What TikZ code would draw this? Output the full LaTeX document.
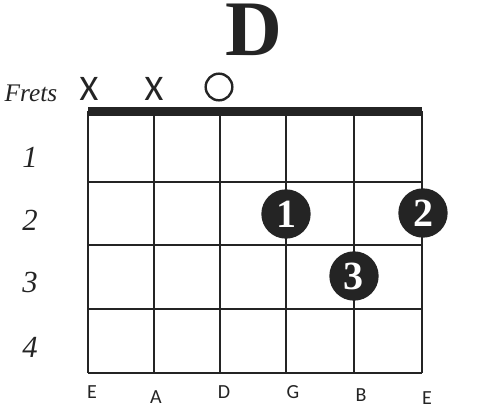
\documentclass[tikz,border=0pt]{standalone}
\usepackage{fontspec}
\setmainfont{Liberation Serif}
\newfontfamily\chordsans{Carlito}
\usetikzlibrary{positioning}

\definecolor{ink}{HTML}{242424}

\begin{document}
\begin{tikzpicture}[
  x=0.75pt, y=-0.75pt,
  every node/.style={text=ink, inner sep=0pt},
  fretline/.style={line width=1.5pt, draw=ink},
  finger/.style={
    circle, fill=ink, minimum size=37pt, text=white,
    font=\fontsize{30}{30}\selectfont\bfseries
  },
  fretnum/.style={font=\fontsize{23}{23}\selectfont\itshape},
  mute/.style={font=\fontsize{27}{27}\selectfont\chordsans},
  strname/.style={font=\fontsize{15}{15}\selectfont\chordsans}
]
\useasboundingbox (0,0) rectangle (494,413);

%--- Title and header ---
\node[anchor=base, text height=39pt, text depth=0pt] (title) at (254, 56)
  {\fontsize{59}{59}\selectfont\bfseries D};
\node (fretlbl) at (31, 93) {\fontsize{19}{19}\selectfont\itshape Frets};
\node[mute] (mute1) at (89, 89)  {X};
\node[mute] (mute2) at (154, 89) {X};
\node[circle, draw=ink, line width=1.8pt, minimum size=20pt] (open) at (219, 87) {};

%--- Grid corners ---
\coordinate (nutL) at (88, 111.5);
\coordinate (nutR) at (422, 111.5);
\coordinate (botL) at (88, 373);

%--- Nut and frets ---
\draw[ink, line width=7pt] (nutL) -- (nutR);
\draw[fretline] (88, 182) -- (422, 182);
\draw[fretline] (88, 245) -- (422, 245);
\draw[fretline] (88, 309) -- (422, 309);
\draw[fretline] (botL) -- (422, 373);

%--- Strings ---
\draw[fretline] (nutL) -- (botL);
\draw[fretline] (154, 111.5) -- (154, 373);
\draw[fretline] (220, 111.5) -- (220, 373);
\draw[fretline] (286, 111.5) -- (286, 373);
\draw[fretline] (354, 111.5) -- (354, 373);
\draw[fretline] (nutR) -- (422, 373);

%--- Fret numbers ---
\node[fretnum] (fret1) at (30, 157) {1};
\node[fretnum] (fret2) at (30, 220) {2};
\node[fretnum] (fret3) at (30, 283) {3};
\node[fretnum] (fret4) at (30, 347) {4};

%--- Fingers ---
\node[finger] (dot1) at (286, 214) {1};
\node[finger] (dot2) at (423, 213) {2};
\node[finger] (dot3) at (354, 276) {3};

%--- String names ---
\node[strname] (strEl) at (92, 392)  {E};
\node[strname] (strA)  at (156, 397) {A};
\node[strname] (strD)  at (224, 392) {D};
\node[strname] (strG)  at (293, 392) {G};
\node[strname] (strB)  at (361, 395) {B};
\node[strname] (strEh) at (427, 398) {E};

\end{tikzpicture}
\end{document}
